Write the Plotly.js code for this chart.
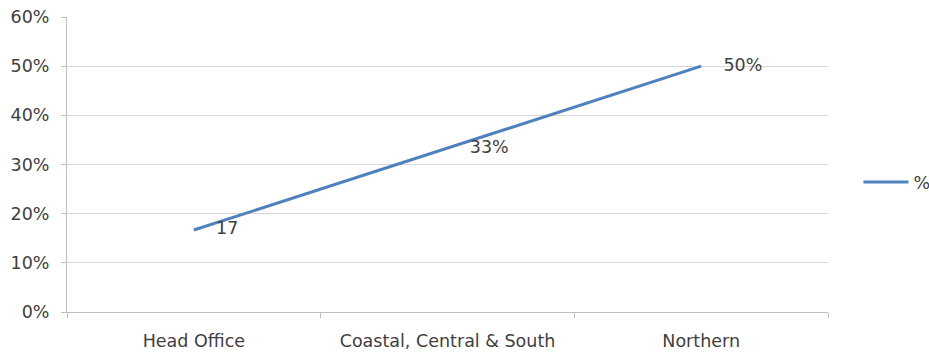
<!DOCTYPE html>
<html>
<head>
<meta charset="utf-8">
<script src="https://cdn.plot.ly/plotly-3.0.1.min.js"></script>
<style>
  html, body { margin: 0; padding: 0; background: #fff; }
  #chart { width: 929px; height: 358px; }
</style>
</head>
<body>
<div id="chart"></div>
<script>
// Share of staff by region
const regions = ["Head Office", "Coastal, Central & South", "Northern"];
const shares = [0.1667, 0.3333, 0.50];
const shareLabels = ["17", "33%", "50%"];
const seriesName = "%";

const textColor = "#404040";
const gridColor = "#d9d9d9";
const fontFamily = "DejaVu Sans, sans-serif";
const fontSize = 17.5;

const trace = {
  type: "scatter",
  mode: "lines+markers+text",
  x: regions,
  y: shares,
  name: seriesName,
  text: shareLabels,
  textposition: "middle right",
  textfont: { family: fontFamily, size: fontSize, color: textColor },
  line: { color: "#4F81BD", width: 3 },
  // transparent markers only push the value labels away from the line
  marker: { size: 34, color: "rgba(0,0,0,0)", line: { width: 0 } },
  cliponaxis: false,
  hoverinfo: "x+y"
};

const layout = {
  width: 929,
  height: 358,
  margin: { l: 67, r: 101, t: 17, b: 46, autoexpand: false },
  paper_bgcolor: "#ffffff",
  plot_bgcolor: "#ffffff",
  font: { family: fontFamily, size: fontSize, color: textColor },
  showlegend: true,
  legend: {
    x: 1.04, xanchor: "left",
    y: 0.44, yanchor: "middle",
    itemwidth: 45,
    font: { size: fontSize, color: textColor },
    bgcolor: "rgba(0,0,0,0)"
  },
  xaxis: {
    type: "category",
    range: [-0.5, 2.5],
    tickson: "boundaries",
    ticks: "outside",
    ticklen: 5,
    tickcolor: "#bfbfbf",
    ticklabelstandoff: 13,
    showline: true,
    linecolor: "#bfbfbf",
    linewidth: 1,
    showgrid: false,
    zeroline: false,
    tickfont: { size: fontSize, color: textColor }
  },
  yaxis: {
    range: [0, 0.6],
    dtick: 0.1,
    tickformat: ".0%",
    ticks: "outside",
    ticklen: 5,
    tickcolor: "#bfbfbf",
    ticklabelstandoff: 8,
    showline: true,
    linecolor: "#bfbfbf",
    linewidth: 1,
    showgrid: true,
    gridcolor: gridColor,
    gridwidth: 1,
    zeroline: false,
    tickfont: { size: fontSize, color: textColor }
  }
};

Plotly.newPlot("chart", [trace], layout, { displayModeBar: false, staticPlot: true });
</script>
</body>
</html>
